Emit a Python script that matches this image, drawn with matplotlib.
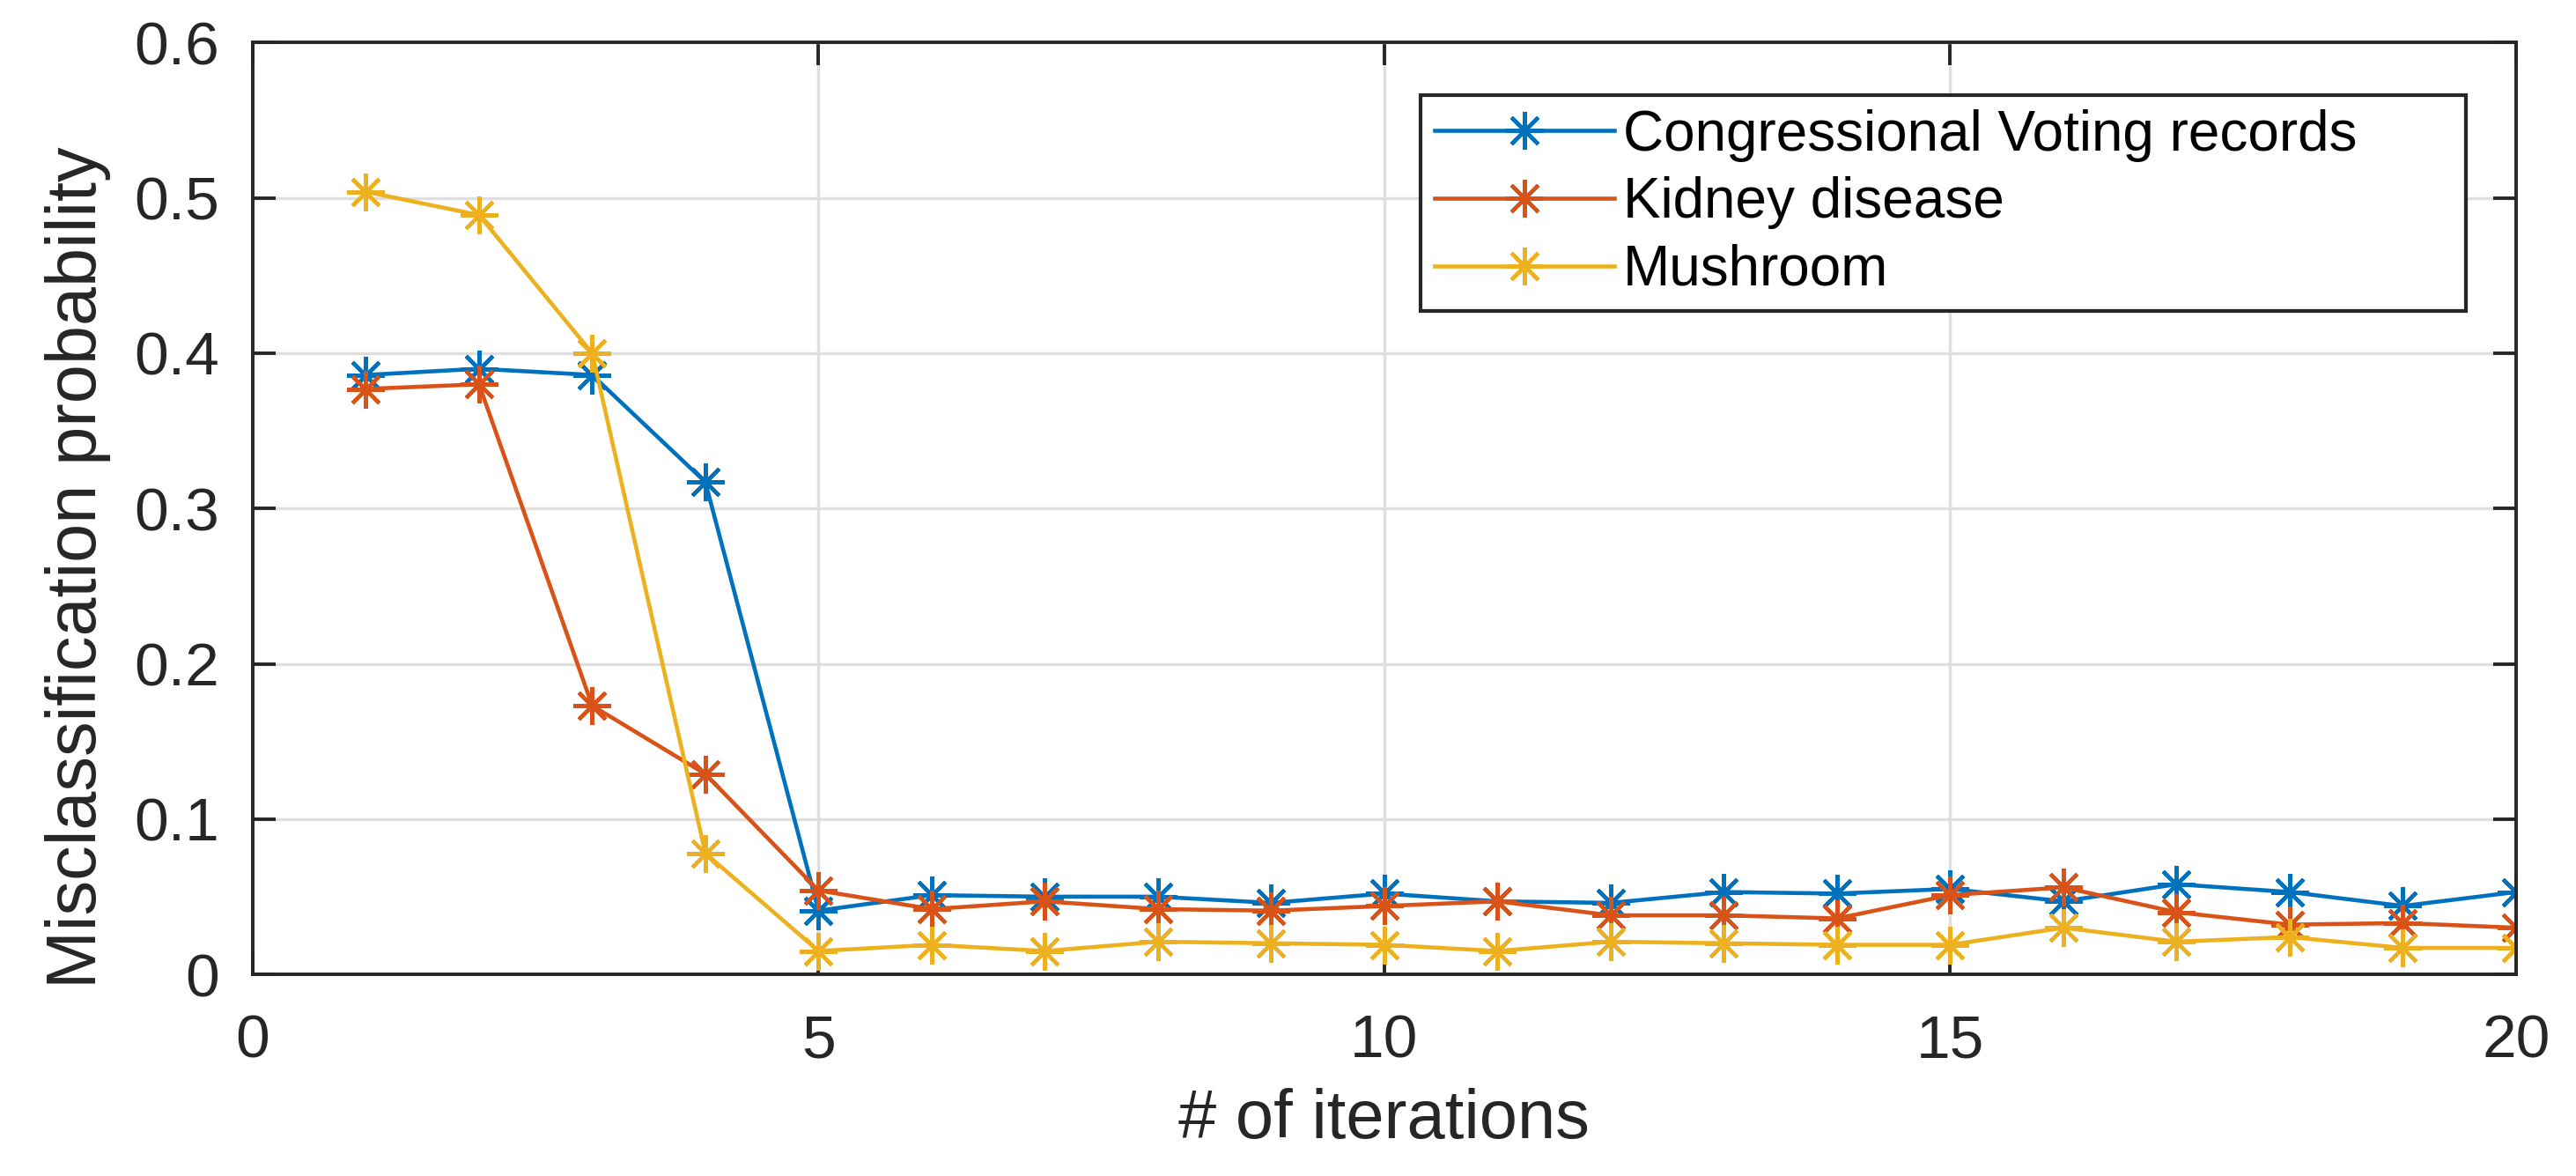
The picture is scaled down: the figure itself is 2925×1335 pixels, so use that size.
import numpy as np
import matplotlib
matplotlib.use('Agg')
import matplotlib.pyplot as plt

# misclassification vs iterations
iterations = np.arange(1, 21)
congressional = [0.386, 0.390, 0.386, 0.317, 0.041, 0.051, 0.050, 0.050, 0.046, 0.052,
                 0.047, 0.046, 0.053, 0.052, 0.055, 0.047, 0.058, 0.053, 0.044, 0.053]
kidney = [0.377, 0.380, 0.173, 0.129, 0.054, 0.042, 0.047, 0.042, 0.041, 0.044,
          0.047, 0.038, 0.038, 0.036, 0.051, 0.056, 0.040, 0.032, 0.033, 0.030]
mushroom = [0.504, 0.489, 0.400, 0.078, 0.015, 0.019, 0.015, 0.021, 0.020, 0.019,
            0.015, 0.021, 0.020, 0.019, 0.019, 0.030, 0.021, 0.024, 0.017, 0.017]
labels = ['Congressional Voting records', 'Kidney disease', 'Mushroom']
xticks = [0, 5, 10, 15, 20]
yticks = [0, 0.1, 0.2, 0.3, 0.4, 0.5, 0.6]
yticklabels = ['0', '0.1', '0.2', '0.3', '0.4', '0.5', '0.6']

# matlab default colours
colors = ['#0072BD', '#D95319', '#EDB120']
axcol = '#262626'

plt.rcParams['font.family'] = ['Liberation Sans', 'DejaVu Sans']

fig = plt.figure(figsize=(29.25, 13.35), dpi=100)
ax = fig.add_axes([0.0981, 0.1715, 0.8786, 0.7922])

asterisk = (8, 2, 0)  # 8 spoke asterisk like matlab '*'
for y, c, lab in zip([congressional, kidney, mushroom], colors, labels):
    ax.plot(iterations, y, color=c, lw=3.3, marker=asterisk, ms=31,
            mew=3.0, mec=c, label=lab)

ax.set_xlim(0, 20)
ax.set_ylim(0, 0.6)
ax.set_xticks(xticks)
ax.set_yticks(yticks)
ax.set_yticklabels(yticklabels)

ax.grid(True, color='#dfdfdf', lw=2.4)
ax.set_axisbelow(True)
for s in ax.spines.values():
    s.set_color(axcol)
    s.set_linewidth(2.8)
ax.tick_params(direction='in', length=19, width=2.8, colors=axcol,
               labelsize=50, top=True, right=True)
ax.tick_params(axis='x', pad=32)
ax.tick_params(axis='y', pad=27)

ax.set_xlabel('# of iterations', fontsize=56, color=axcol, labelpad=15)
ax.set_ylabel('Misclassification probability', fontsize=57, color=axcol, labelpad=19)
ax.yaxis.label.set_y(0.437)  # matlab puts it a bit low

leg = ax.legend(loc='upper left', bbox_to_anchor=(0.516, 0.944, 0.462, 0),
                mode='expand', fontsize=46, handlelength=3.2, handletextpad=0.15,
                borderpad=0.25, borderaxespad=0, labelspacing=0.26,
                fancybox=False, framealpha=1, edgecolor=axcol)
leg.get_frame().set_linewidth(3.0)

fig.savefig('out.png', dpi=100)
